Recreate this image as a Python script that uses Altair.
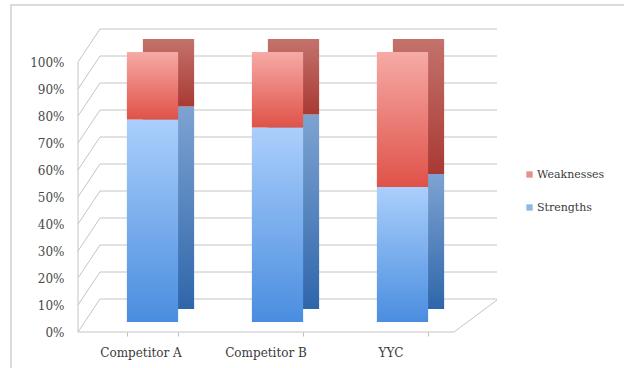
import altair as alt
import pandas as pd

categories = ["Competitor A", "Competitor B", "YYC"]
strengths = [0.75, 0.72, 0.50]
weaknesses = [0.25, 0.28, 0.50]
series_names = ["Weaknesses", "Strengths"]
series_colors = ["#d9625c", "#5b9bd5"]
tick_values = [0.0, 0.1, 0.2, 0.3, 0.4, 0.5, 0.6, 0.7, 0.8, 0.9, 1.0]

df = pd.DataFrame({"category": categories, "strengths": strengths, "weaknesses": weaknesses})
grid = pd.DataFrame({"v": tick_values})
one = pd.DataFrame({"a": [0]})

FONT = "DejaVu Serif"

def grad(top, bottom):
    return alt.Gradient(
        gradient="linear", x1=0, y1=0, x2=0, y2=1,
        stops=[alt.GradientStop(color=top, offset=0), alt.GradientStop(color=bottom, offset=1)],
    )

xs = alt.Scale(domain=categories, paddingInner=0.59, paddingOuter=0.295)
ys = alt.Scale(domain=[0, 1], nice=False)

x_enc = alt.X("category:N", scale=xs, sort=categories, title=None,
              axis=alt.Axis(labelAngle=0, domain=False, ticks=True, tickBand="extent",
                            tickSize=4, tickColor="#bfbfbf", tickOffset=-12, offset=10,
                            labelOffset=-12, labelPadding=11, labelFont=FONT, labelFontSize=12,
                            labelColor="#3a3a3a"))
y_axis = alt.Axis(values=tick_values, format=".0%", grid=False, domain=False, ticks=False,
                  offset=12, labelPadding=14, labelOffset=10, labelFont=FONT,
                  labelFontSize=12, labelColor="#484848")

base = alt.Chart(df).transform_calculate(top="datum.strengths + datum.weaknesses")

# back wall gridlines
gridlines = alt.Chart(grid).mark_rule(color="#c4c4c4", strokeWidth=1, yOffset=-23).encode(
    y=alt.Y("v:Q", scale=ys, axis=y_axis, title=None),
    x=alt.value(10), x2=alt.value(407),
)
# left wall diagonals
diag = alt.Chart(grid).mark_rule(color="#c4c4c4", strokeWidth=1, yOffset=10, y2Offset=-23).encode(
    y=alt.Y("v:Q", scale=ys, axis=y_axis, title=None),
    y2=alt.Y2("v"),
    x=alt.value(-12), x2=alt.value(10),
)
left_edge = alt.Chart(one).mark_rule(color="#c4c4c4").encode(
    x=alt.value(-12), y=alt.value(10), y2=alt.value(280))
floor_front = alt.Chart(one).mark_rule(color="#c4c4c4").encode(
    x=alt.value(-12), x2=alt.value(364), y=alt.value(280))
floor_right = alt.Chart(one).mark_rule(color="#c4c4c4").encode(
    x=alt.value(364), x2=alt.value(407), y=alt.value(280), y2=alt.value(248))
frame = alt.Chart(one).mark_rect(fill=None, stroke="#cfcfcf", strokeWidth=1.5).encode(
    x=alt.value(-79), x2=alt.value(600), y=alt.value(-47), y2=alt.value(400))

# 3D depth (side/top faces)
s_side = base.mark_bar(color=grad("#7ea3d2", "#2f66aa"), xOffset=16, yOffset=-13, y2Offset=-13).encode(
    x=x_enc, y=alt.Y("strengths:Q", scale=ys, axis=y_axis, title=None), y2=alt.datum(0))
w_side = base.mark_bar(color=grad("#c4726c", "#a83a33"), xOffset=16, yOffset=-13, y2Offset=-13).encode(
    x=x_enc, y=alt.Y("top:Q", scale=ys, axis=y_axis, title=None), y2="strengths:Q")

# front faces
s_front = base.mark_bar(color=grad("#abcffc", "#4a8ddf")).encode(
    x=x_enc, y=alt.Y("strengths:Q", scale=ys, axis=y_axis, title=None), y2=alt.datum(0))
w_front = base.mark_bar(color=grad("#f6aaa6", "#df5248")).encode(
    x=x_enc, y=alt.Y("top:Q", scale=ys, axis=y_axis, title=None), y2="strengths:Q")

legend_layer = base.mark_square(size=40).transform_filter("false").encode(
    color=alt.Color("category:N",
                    scale=alt.Scale(domain=series_names, range=series_colors),
                    legend=alt.Legend(title=None, orient="none", legendX=434, legendY=117,
                                      symbolType="square", symbolSize=40, rowPadding=21,
                                      labelFont=FONT, labelFontSize=11, labelColor="#3a3a3a",
                                      labelOffset=2, symbolStrokeWidth=0)))

chart = alt.layer(
    frame, gridlines, diag, left_edge, floor_front, floor_right,
    s_side, w_side, s_front, w_front, legend_layer,
).properties(
    width=375, height=270,
    autosize=alt.AutoSizeParams(type="none"),
    padding={"left": 90, "top": 52, "right": 159, "bottom": 46},
    background="white",
).configure_view(stroke=None)

chart.save("out.html", embed_options={"renderer": "svg", "actions": False})
